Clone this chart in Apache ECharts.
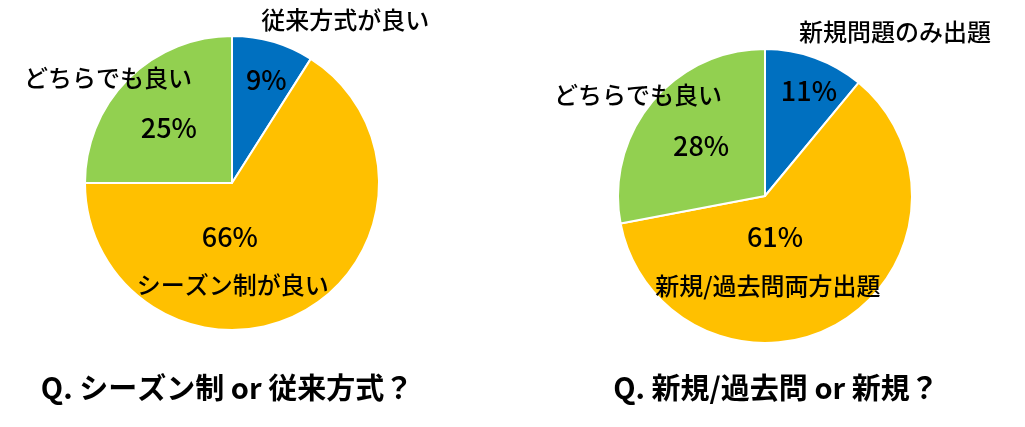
<!DOCTYPE html>
<html>
<head>
<meta charset="utf-8">
<script src="https://cdn.jsdelivr.net/npm/echarts@6/dist/echarts.min.js"></script>
<style>
  html, body { margin: 0; padding: 0; background: #fff; }
  #chart { width: 1025px; height: 427px; }
</style>
</head>
<body>
<div id="chart"></div>
<script>
// left pie: シーズン制 or 従来方式
const leftNames = ['従来方式が良い', 'シーズン制が良い', 'どちらでも良い'];
const leftValues = [9, 66, 25];
const leftTitle = 'Q. シーズン制 or 従来方式？';

// right pie: 新規/過去問 or 新規
const rightNames = ['新規問題のみ出題', '新規/過去問両方出題', 'どちらでも良い'];
const rightValues = [11, 61, 28];
const rightTitle = 'Q. 新規/過去問 or 新規？';

const colors = ['#0070C0', '#FFC000', '#92D050'];
const font = '"Noto Sans CJK JP", "Noto Sans", sans-serif';

// label offsets from the default inside position [percent, name]
const leftPctOffset = [[13, -30], [-39, -13], [-9, -1]];
const leftNameOffset = [[92, -90], [-36, 35], [-70, -51]];
const rightPctOffset = [[18, -33], [-29, -25], [-5, -2]];
const rightNameOffset = [[104, -92], [-36, 24], [-68, -52]];

function pieSeries(names, values, center, pctOff, nameOff) {
  const slices = {
    type: 'pie',
    center: center,
    radius: 147,
    startAngle: 90,
    clockwise: true,
    silent: true,
    itemStyle: { borderColor: '#fff', borderWidth: 2 },
    label: {
      position: 'inside',
      formatter: '{d}%',
      color: '#000',
      fontSize: 27,
      fontWeight: 500,
      fontFamily: font
    },
    labelLine: { show: false },
    data: names.map((n, i) => ({
      name: n,
      value: values[i],
      itemStyle: { color: colors[i] },
      label: { offset: pctOff[i] }
    }))
  };
  const nameLabels = {
    type: 'pie',
    center: center,
    radius: 147,
    startAngle: 90,
    clockwise: true,
    silent: true,
    itemStyle: { color: 'transparent', borderWidth: 0 },
    label: {
      position: 'inside',
      formatter: '{b}',
      color: '#000',
      fontSize: 24,
      fontWeight: 500,
      fontFamily: font
    },
    labelLine: { show: false },
    data: names.map((n, i) => ({
      name: n,
      value: values[i],
      label: { offset: nameOff[i] }
    }))
  };
  return [slices, nameLabels];
}

const chart = echarts.init(document.getElementById('chart'));
chart.setOption({
  animation: false,
  title: [
    {
      text: leftTitle,
      left: 222,
      top: 368,
      textAlign: 'center',
      textStyle: { fontSize: 29, fontWeight: 'bold', color: '#000', fontFamily: font }
    },
    {
      text: rightTitle,
      left: 771,
      top: 368,
      textAlign: 'center',
      textStyle: { fontSize: 29, fontWeight: 'bold', color: '#000', fontFamily: font }
    }
  ],
  series: [
    ...pieSeries(leftNames, leftValues, [232, 183], leftPctOffset, leftNameOffset),
    ...pieSeries(rightNames, rightValues, [765, 196], rightPctOffset, rightNameOffset)
  ]
});
</script>
</body>
</html>
